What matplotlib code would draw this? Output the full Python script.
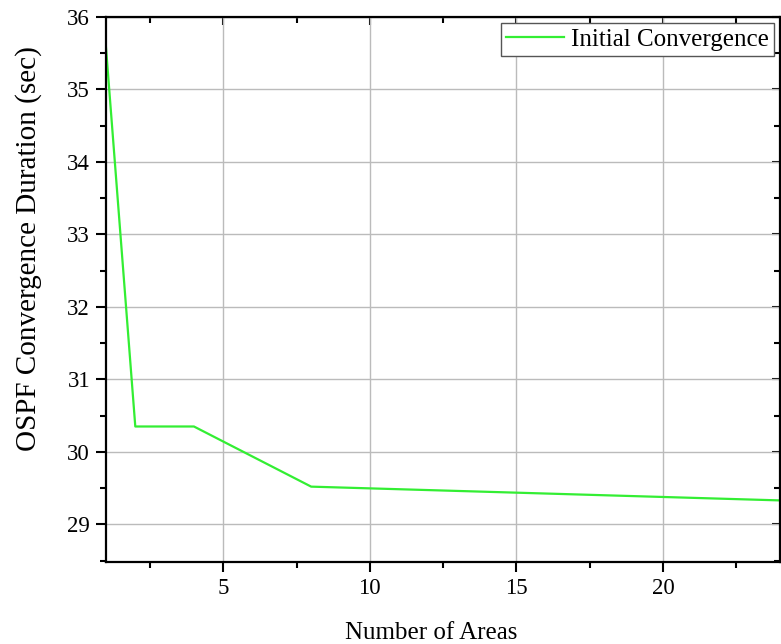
import matplotlib.pyplot as plt
from matplotlib.ticker import MultipleLocator

areas = [1, 2, 4, 8, 24]
duration = [35.58, 30.35, 30.35, 29.52, 29.33]

plt.rcParams['font.family'] = ['Liberation Serif', 'DejaVu Serif']

fig = plt.figure(figsize=(7.81, 6.44), dpi=100)
ax = fig.add_axes([0.1357, 0.1273, 0.8633, 0.8463])

ax.plot(areas, duration, color='#33ee33', linewidth=1.6, label='Initial Convergence')

ax.set_xlim(1, 24)
ax.set_ylim(28.48, 36)
ax.xaxis.set_major_locator(MultipleLocator(5))
ax.xaxis.set_minor_locator(MultipleLocator(2.5))
ax.yaxis.set_major_locator(MultipleLocator(1))
ax.yaxis.set_minor_locator(MultipleLocator(0.5))

ax.grid(True, which='major', color='#bbbbbb', linewidth=1.0)
for s in ax.spines.values():
    s.set_linewidth(1.6)

ax.tick_params(which='both', direction='out', width=1.5, labelsize=16.5, pad=4)
ax.tick_params(which='major', length=7.5)
ax.tick_params(which='minor', length=4.5)

# inward ticks on top and right
top = ax.secondary_xaxis('top')
top.xaxis.set_major_locator(MultipleLocator(5))
top.xaxis.set_minor_locator(MultipleLocator(2.5))
top.tick_params(which='both', direction='in', width=1.5, labeltop=False)
top.tick_params(which='major', length=6)
top.tick_params(which='minor', length=4)
right = ax.secondary_yaxis('right')
right.yaxis.set_major_locator(MultipleLocator(1))
right.yaxis.set_minor_locator(MultipleLocator(0.5))
right.tick_params(which='both', direction='in', width=1.5, labelright=False)
right.tick_params(which='major', length=6)
right.tick_params(which='minor', length=4)

ax.set_xlabel('Number of Areas', fontsize=18)
ax.set_ylabel('OSPF Convergence Duration (sec)', fontsize=21)
ax.xaxis.set_label_coords(0.483, -0.11)
ax.yaxis.set_label_coords(-0.095, 0.576)

leg = ax.legend(loc='upper right', fontsize=18, fancybox=False, framealpha=1,
                edgecolor='#555555', borderpad=0.2, handlelength=2.3,
                handletextpad=0.3, borderaxespad=0.25)
leg.get_frame().set_linewidth(1.0)

plt.savefig('out.png', dpi=100)
